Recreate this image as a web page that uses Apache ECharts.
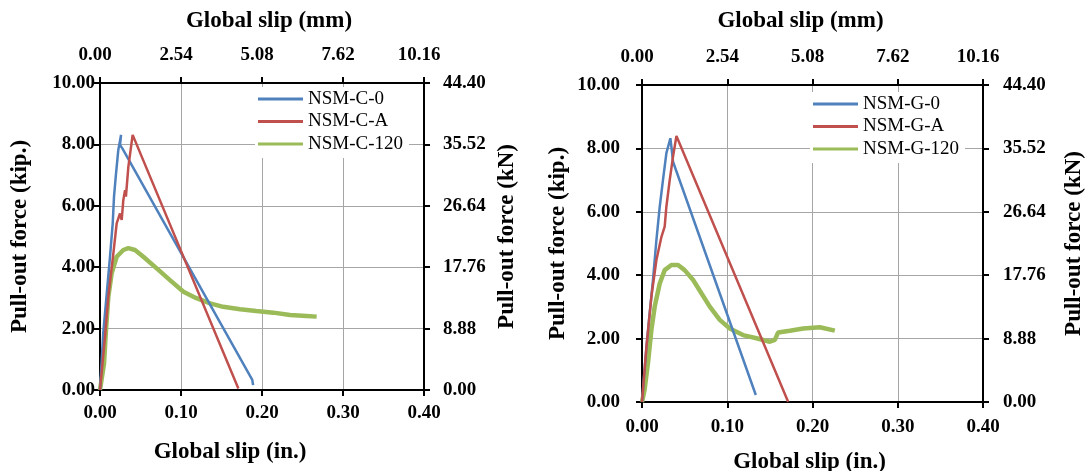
<!DOCTYPE html>
<html>
<head>
<meta charset="utf-8">
<script src="https://cdn.jsdelivr.net/npm/echarts@6/dist/echarts.min.js"></script>
<style>
  html, body { margin: 0; padding: 0; background: #fff; }
  #chart { width: 1092px; height: 471px; }
</style>
</head>
<body>
<div id="chart"></div>
<script>
// tick labels
const slipInTicks = [0, 0.1, 0.2, 0.3, 0.4]
const slipMmTicks = ['0.00', '2.54', '5.08', '7.62', '10.16']
const kipTicks = [0, 2, 4, 6, 8, 10]
const kNTicks = ['0.00', '8.88', '17.76', '26.64', '35.52', '44.40']

// [slip (in.), force (kip)]
const nsmC0 = [[0, 0], [0.002, 0.05], [0.004, 1.85], [0.008, 3.04], [0.012, 4.23], [0.0157, 5.43], [0.0173, 6.30],
  [0.0198, 7.06], [0.0226, 7.82], [0.026, 8.31], [0.0247, 7.98], [0.0276, 7.87], [0.188, 0.33], [0.189, 0.16]]
const nsmCA = [[0, 0], [0.0062, 1.74], [0.0103, 3.04], [0.0165, 4.45], [0.0206, 5.43], [0.0247, 5.75], [0.0268, 5.54],
  [0.0288, 6.19], [0.0309, 6.51], [0.032, 6.30], [0.035, 7.27], [0.0403, 8.31], [0.1708, 0.05]]
const nsmC120 = [[0, 0], [0.002, 0.05], [0.005, 0.87], [0.0074, 1.95], [0.0103, 3.04], [0.0144, 3.80], [0.0206, 4.34],
  [0.0288, 4.56], [0.035, 4.62], [0.0432, 4.56], [0.0535, 4.34], [0.070, 3.96], [0.0864, 3.58], [0.103, 3.20],
  [0.119, 2.99], [0.136, 2.82], [0.152, 2.71], [0.173, 2.63], [0.193, 2.57], [0.214, 2.52], [0.2346, 2.44],
  [0.255, 2.41], [0.2675, 2.39]]

const nsmG0 = [[0, 0], [0.002, 0.69], [0.0052, 1.74], [0.009, 2.80], [0.0129, 3.85], [0.0169, 5.11], [0.0208, 6.16],
  [0.0246, 7.0], [0.0286, 7.85], [0.0333, 8.32], [0.0345, 8.05], [0.0364, 7.58], [0.1335, 0.22]]
const nsmGA = [[0, 0], [0.0052, 1.74], [0.011, 3.32], [0.0169, 4.48], [0.0228, 5.21], [0.0266, 5.53], [0.0286, 6.16],
  [0.0325, 7.0], [0.0364, 7.74], [0.0404, 8.39], [0.1714, 0.01]]
const nsmG120 = [[0, 0], [0.003, 0.38], [0.007, 1.22], [0.011, 2.27], [0.0149, 3.01], [0.0208, 3.74], [0.0266, 4.16],
  [0.0345, 4.32], [0.0423, 4.32], [0.050, 4.16], [0.060, 3.85], [0.0697, 3.43], [0.0795, 3.01], [0.0912, 2.59],
  [0.103, 2.32], [0.1185, 2.11], [0.1343, 2.01], [0.150, 1.90], [0.1558, 1.96], [0.1596, 2.19], [0.1734, 2.25],
  [0.189, 2.32], [0.2086, 2.36], [0.2262, 2.25]]

const FONT = 'Liberation Serif'
const BLUE = '#4f81bd'
const RED = '#c0504d'
const GREEN = '#9bbb59'

const axisLine = { show: true, onZero: false, lineStyle: { color: '#000', width: 2 } }
const axisTick = { show: true, inside: false, length: 6, lineStyle: { color: '#000', width: 2 } }
const gridLine = { show: true, lineStyle: { color: '#a6a6a6', width: 1 } }
const tickFont = { color: '#000', fontFamily: FONT, fontWeight: 'bold', fontSize: 19 }
const nameFont = { color: '#000', fontFamily: FONT, fontWeight: 'bold', fontSize: 23 }

const inAxis = (grid, labelMargin, nameGap, shift) => ({
  type: 'value', gridIndex: grid, position: 'bottom', min: 0, max: 0.4, interval: 0.1,
  axisLine, axisTick, splitLine: gridLine,
  axisLabel: { ...tickFont, margin: labelMargin, formatter: v => v.toFixed(2) },
  name: 'Global slip (in.)', nameLocation: 'middle', nameGap, nameMoveOverlap: false,
  nameTextStyle: { ...nameFont, padding: [0, shift, 0, 0] }
})
const mmAxis = (grid, labelMargin, nameGap, shift) => ({
  type: 'value', gridIndex: grid, position: 'top', min: 0, max: 0.4, interval: 0.1,
  axisLine, axisTick, splitLine: { show: false },
  axisLabel: { ...tickFont, margin: labelMargin, padding: [0, 10, 0, 0], formatter: (v, i) => slipMmTicks[i] },
  name: 'Global slip (mm)', nameLocation: 'middle', nameGap, nameMoveOverlap: false,
  nameTextStyle: { ...nameFont, padding: [0, shift, 0, 0] }
})
const kipAxis = (grid, labelMargin, nameGap) => ({
  type: 'value', gridIndex: grid, position: 'left', min: 0, max: 10, interval: 2,
  axisLine, axisTick, splitLine: gridLine,
  axisLabel: { ...tickFont, margin: labelMargin, formatter: v => v.toFixed(2) },
  name: 'Pull-out force (kip.)', nameLocation: 'middle', nameGap, nameRotate: 90, nameMoveOverlap: false,
  nameTextStyle: nameFont
})
const kNAxis = (grid, labelMargin, nameGap) => ({
  type: 'value', gridIndex: grid, position: 'right', min: 0, max: 10, interval: 2,
  axisLine, axisTick, splitLine: { show: false },
  axisLabel: { ...tickFont, margin: labelMargin, formatter: (v, i) => kNTicks[i] },
  name: 'Pull-out force (kN)', nameLocation: 'middle', nameGap, nameRotate: 90, nameMoveOverlap: false,
  nameTextStyle: nameFont
})

const line = (name, data, color, width, axis) => ({
  name, type: 'line', data, symbol: 'none', smooth: false,
  xAxisIndex: axis, yAxisIndex: axis,
  lineStyle: { color, width }, itemStyle: { color },
  z: width > 3 ? 2 : 3
})

const legend = (names, left, top) => ({
  data: names, orient: 'vertical', left, top,
  icon: 'rect', itemWidth: 45, itemHeight: 3, itemGap: 2.5,
  backgroundColor: '#fff', padding: [2, 6, 4, 3],
  textStyle: { color: '#000', fontFamily: FONT, fontSize: 19, lineHeight: 20, padding: [0, 0, 0, 0] }
})

const chart = echarts.init(document.getElementById('chart'))
chart.setOption({
  animation: false,
  grid: [
    { left: 100, top: 83, width: 324, height: 307, outerBoundsMode: 'none' },
    { left: 642, top: 85, width: 341, height: 317, outerBoundsMode: 'none' }
  ],
  xAxis: [
    inAxis(0, 14, 51, 64), mmAxis(0, 18, 50, -14),
    inAxis(1, 16, 49, 6), mmAxis(1, 18, 52, 24)
  ],
  yAxis: [
    kipAxis(0, 5, 68), kNAxis(0, 19, 72),
    kipAxis(1, 22, 72), kNAxis(1, 20, 80)
  ],
  legend: [
    legend(['NSM-C-0', 'NSM-C-A', 'NSM-C-120'], 255, 87),
    legend(['NSM-G-0', 'NSM-G-A', 'NSM-G-120'], 810, 92)
  ],
  series: [
    line('NSM-C-0', nsmC0, BLUE, 2.5, 0),
    line('NSM-C-A', nsmCA, RED, 2.5, 0),
    line('NSM-C-120', nsmC120, GREEN, 4.5, 0),
    line('NSM-G-0', nsmG0, BLUE, 2.5, 2),
    line('NSM-G-A', nsmGA, RED, 2.5, 2),
    line('NSM-G-120', nsmG120, GREEN, 4.5, 2)
  ]
})
</script>
</body>
</html>
